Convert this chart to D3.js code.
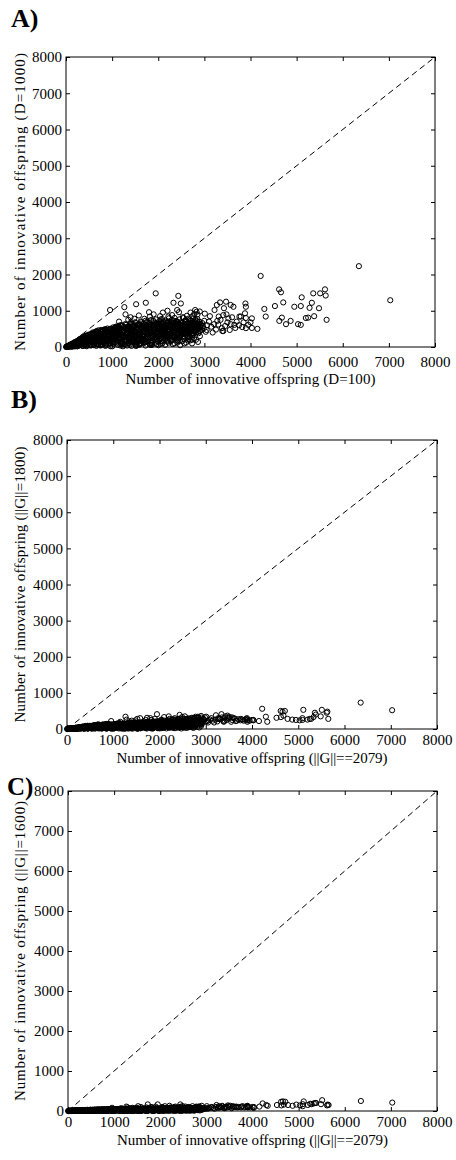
<!DOCTYPE html>
<html>
<head>
<meta charset="utf-8">
<script src="https://cdn.jsdelivr.net/npm/d3@7"></script>
<style>
  body { margin: 0; background: #fff; }
  svg { display: block; }
  text { font-family: "Liberation Serif", "Times New Roman", serif; fill: #000; }
</style>
</head>
<body>
<svg id="chart" width="456" height="1160"></svg>
<script>
// Axis ticks shared by both axes of every panel
const tickValues = [0, 1000, 2000, 3000, 4000, 5000, 6000, 7000, 8000];

// Innovative offspring per run: baseline setting (D=100, ||G||==2079)
const offspringD100 = [
  6350, 7030, 4220, 4620, 4660, 5615, 5110, 5360, 5510, 5630,
  4710, 4300, 4330, 4530, 4950, 5090, 5330, 5280, 4625, 4680,
  4770, 4870, 5030, 5090, 5200, 5250, 5380, 5650, 5485, 3890,
  3900, 3880, 3900, 3820, 4030, 4030, 4150, 3900, 3470, 3340,
  3270, 3220, 3570, 3425, 3630, 3760, 3790, 3520, 3410, 3310,
  3410, 3390, 3570, 3670, 3650, 3010, 3030, 3050, 3210, 2800,
  2830, 2760, 2850, 2435, 2330, 2490, 2410, 1945, 1730, 1520,
  1265, 955, 1820, 2040, 2220, 2650, 1730, 1590, 1200, 1100,
  810,
  1290, 1400, 1580, 1700, 1900, 2100, 2300, 2550, 2700, 2900,
  2620, 2780, 1350, 1800, 2450, 2200, 2050, 2600, 1150, 1480,
  3100, 3150, 3250, 3300, 3350, 3450, 3500, 3550, 3600, 3700,
  3750, 3850, 3950, 4000, 3120, 3180, 3280, 3380, 3480, 3060,
  12, 28, 41, 57, 73, 88, 103, 118, 131, 148,
  162, 179, 193, 207, 224, 238, 252, 268, 283, 297,
  313, 327, 344, 358, 372, 389, 403, 418, 433, 447,
  462, 478, 493, 507, 523, 538, 552, 568, 583, 597,
  612, 628, 642, 657, 673, 688, 702, 718, 733, 747,
  762, 778, 792, 807, 823, 837, 852, 868, 882, 897,
  913, 927, 942, 958, 972, 987, 1003, 1017, 1032, 1048,
  1062, 1077, 1093, 1107, 1122, 1138, 1152, 1168, 1182, 1197,
  1213, 1227, 1242, 1258, 1272, 1287, 1302, 1317, 1333, 1347,
  1362, 1378, 1392, 1407, 1423, 1437, 1452, 1468, 1482, 1497,
  1512, 1527, 1543, 1557, 1572, 1588, 1602, 1617, 1633, 1647,
  1662, 1678, 1692, 1707, 1723, 1737, 1752, 1768, 1782, 1797,
  1813, 1827, 1842, 1858, 1872, 1887, 1903, 1917, 1932, 1948,
  1962, 1977, 1993, 2007, 2022, 2038, 2052, 2067, 2083, 2097,
  2112, 2128, 2142, 2157, 2173, 2187, 2202, 2218, 2232, 2247,
  2263, 2277, 2292, 2308, 2322, 2337, 2353, 2367, 2382, 2398,
  2412, 2427, 2443, 2457, 2472, 2488, 2502, 2517, 2533, 2547,
  2562, 2578, 2592, 2607, 2623, 2637, 2652, 2668, 2682, 2697,
  2713, 2727, 2742, 2758, 2772, 2787, 2803, 2817, 2832, 2848,
  2862, 2877, 2893, 2907, 2922, 2938, 2952, 2967, 2983, 2997,
  5, 18, 34, 47, 63, 79, 91, 108, 121, 137, 152, 166, 183, 196, 211, 227, 241, 256, 272, 286,
  9, 24, 39, 52, 68, 84, 97, 113, 127, 142, 157, 171, 188, 201, 217, 232, 246, 262, 277, 291,
  302, 318, 333, 349, 363, 379, 394, 408, 424, 439, 453, 469, 484, 498, 514, 529, 543, 559, 574, 588,
  306, 337, 366, 397, 428, 456, 487, 517, 546, 578, 604, 619, 634, 651, 664, 679, 694, 609, 639, 668,
  703, 718, 734, 749, 763, 779, 794, 808, 824, 839, 853, 869, 884, 898, 914, 929, 943, 959, 974, 988,
  1004, 1019, 1034, 1049, 1063, 1079, 1094, 1108, 1124, 1139, 1153, 1169, 1184, 1198, 1214, 1229, 1243, 1259, 1274, 1288,
  1303, 1318, 1334, 1349, 1363, 1379, 1394, 711, 743, 772, 806, 833, 866, 891, 921, 952, 981, 1011, 1042, 1071,
  1101, 1131, 1161, 1191, 1221, 1251, 1281, 1311, 1341, 1371, 1397, 726, 788, 851, 907, 968, 1027, 1086, 1147, 1206,
  1404, 1419, 1434, 1449, 1463, 1479, 1494, 1508, 1524, 1539, 1553, 1569, 1584, 1598, 1614, 1629, 1643, 1659, 1674, 1688,
  1703, 1718, 1734, 1749, 1763, 1779, 1794, 1808, 1824, 1839, 1853, 1869, 1884, 1898, 1914, 1929, 1943, 1959, 1974, 1988,
  1411, 1441, 1471, 1501, 1531, 1561, 1591, 1621, 1651, 1681, 1711, 1741, 1771, 1801, 1831, 1861, 1891, 1921, 1951, 1981,
  1426, 1486, 1546, 1606, 1666, 1726, 1786, 1846, 1906, 1966, 1456, 1516, 1576, 1636, 1696, 1756, 1816, 1876, 1936, 1996,
  2004, 2029, 2053, 2078, 2104, 2128, 2153, 2179, 2203, 2228, 2254, 2278, 2303, 2329, 2353, 2378, 2404, 2428, 2453, 2479,
  2011, 2036, 2061, 2086, 2111, 2136, 2161, 2186, 2211, 2236, 2261, 2286, 2311, 2336, 2361, 2386, 2411, 2436, 2461, 2486,
  2018, 2043, 2068, 2093, 2118, 2143, 2168, 2193, 2218, 2243, 2268, 2293, 2318, 2343, 2368, 2393, 2418, 2443, 2468, 2493,
  2024, 2049, 2074, 2099, 2124, 2149, 2174, 2199, 2224, 2249, 2274, 2299, 2324, 2349, 2374, 2399, 2424, 2449, 2474, 2497,
  2506, 2527, 2548, 2569, 2591, 2612, 2633, 2654, 2676, 2697, 2718, 2739, 2761, 2782, 2803, 2824, 2846, 2867, 2888, 2909,
  2513, 2534, 2555, 2577, 2598, 2619, 2641, 2662, 2683, 2704, 2726, 2747, 2768, 2789, 2811, 2832, 2853, 2874, 2896, 2916,
  2519, 2541, 2562, 2584, 2605, 2626, 2648, 2669, 2690, 2711, 2733, 2754, 2775, 2797, 2818, 2839, 2861, 2882, 2903, 2924,
  56, 133, 214, 298, 371, 452, 533, 617, 698, 781, 862, 946, 1027, 1109, 1193, 1276, 1357, 1438, 1522, 1604,
  145, 260, 370, 455, 540, 620, 700, 760, 830, 900, 965, 1030, 1095, 1160, 1225, 1290, 1355, 1420, 1485, 1550,
  1615, 1680, 1745, 1810, 1875, 1940, 2005, 2070, 2135, 2200, 2265, 2330, 2395, 2460, 2525, 2590, 2655, 2720, 180, 410,
  215, 330, 480, 575, 660, 745, 815, 885, 950, 1015, 1080, 1145, 1210, 1275, 1340, 1405, 1470, 1535, 1600, 1665,
  1730, 1795, 1860, 1925, 1990, 2055, 2120, 2185, 2250, 2315, 2380, 2445, 2510, 2575, 2640, 2705, 650, 875, 1120, 1385,
  590, 675, 725, 790, 855, 920, 985, 1050, 1115, 1180, 1245, 1310, 1375, 1440, 1505, 1570, 1635, 1700, 1765, 1830,
  1895, 1960, 2025, 2090, 2155, 2220, 2285, 2350, 2415, 2480, 2545, 2610, 2675, 2740, 1655, 1875, 2105, 2335, 2565, 1435,
  395, 505, 610, 715, 820, 925, 1025, 1135, 1235, 1340, 1445, 1545, 1650, 1755, 1855, 1960, 2065, 2165, 2270, 2375,
  2475, 2580, 2685, 350, 445, 560, 680, 795, 910, 1040, 1170, 1300, 1430, 1560, 1690, 1820, 1950, 2080, 2210, 2340,
  2470, 2600, 1005, 1070, 1135, 1200, 1265, 1330, 1395, 1460, 1525, 1590, 1655, 1720, 1785, 1850, 1915, 1980, 2045, 2110,
  2175, 2240, 2305, 2370, 2435, 2500, 2565, 2630, 2695, 2760, 765, 845, 935, 1060, 1190, 1325, 1460, 1590, 1725, 1860
];

// Same runs with D=1000
const offspringD1000 = [
  2230, 1290, 1960, 1590, 1510, 1590, 1370, 1480, 1480, 1420,
  1230, 1050, 840, 1130, 1110, 1130, 1220, 1080, 720, 810,
  630, 720, 630, 610, 800, 810, 850, 750, 1070, 1200,
  1110, 930, 800, 550, 790, 525, 500, 520, 1250, 1230,
  1160, 1020, 1160, 1070, 1110, 840, 840, 790, 880, 840,
  440, 440, 630, 525, 610, 920, 420, 470, 630, 1020,
  970, 790, 900, 1410, 1220, 1200, 1020, 1480, 1220, 1180,
  1100, 1020, 840, 850, 840, 420, 240, 100, 80, 330,
  150,
  900, 820, 870, 780, 900, 950, 880, 800, 950, 980,
  860, 910, 750, 960, 960, 1000, 760, 720, 700, 780,
  700, 560, 480, 620, 750, 580, 680, 470, 820, 700,
  600, 680, 610, 680, 850, 400, 720, 520, 900, 600,
  6, 22, 11, 37, 14, 52, 31, 63, 18, 72,
  44, 93, 29, 112, 61, 133, 24, 97, 152, 56,
  172, 82, 193, 41, 122, 214, 77, 232, 161, 21,
  253, 112, 272, 191, 62, 302, 142, 243, 332, 91,
  283, 182, 362, 31, 232, 402, 121, 322, 212, 442,
  71, 292, 462, 162, 382, 252, 482, 101, 342, 202,
  432, 292, 152, 502, 382, 242, 462, 122, 332, 522,
  202, 412, 282, 562, 172, 372, 482, 242, 602, 322,
  142, 442, 542, 262, 382, 632, 202, 482, 332, 572,
  152, 422, 662, 272, 512, 362, 602, 222, 452, 682,
  302, 542, 392, 182, 622, 472, 332, 702, 252, 562,
  412, 642, 302, 502, 722, 372, 592, 442, 262, 662,
  522, 382, 742, 302, 612, 462, 682, 342, 562, 762,
  422, 632, 282, 502, 712, 362, 592, 452, 772, 322,
  652, 522, 402, 732, 562, 302, 682, 472, 792, 382,
  612, 522, 742, 342, 662, 452, 802, 582, 402, 702,
  502, 622, 362, 762, 542, 432, 682, 582, 822, 472,
  642, 382, 732, 522, 612, 442, 782, 562, 662, 402,
  722, 502, 852, 602, 452, 702, 542, 642, 482, 772,
  582, 422, 692, 532, 612, 472, 662, 582, 512, 722,
  3, 10, 8, 25, 40, 18, 60, 35, 80, 22, 95, 55, 120, 70, 140, 40, 160, 100, 185, 60,
  0, 15, 27, 12, 45, 30, 66, 5, 88, 50, 104, 15, 130, 85, 150, 110, 20, 175, 130, 200,
  220, 90, 240, 160, 30, 260, 200, 280, 120, 300, 40, 320, 240, 180, 340, 70, 360, 280, 140, 380,
  120, 200, 280, 60, 310, 220, 340, 100, 260, 400, 50, 300, 410, 170, 440, 250, 360, 200, 420, 90,
  460, 180, 380, 40, 470, 260, 420, 120, 340, 490, 60, 440, 220, 510, 300, 400, 90, 480, 200, 350,
  20, 540, 270, 410, 120, 560, 330, 470, 60, 580, 240, 500, 380, 150, 600, 290, 440, 80, 520, 350,
  610, 230, 470, 110, 560, 370, 640, 290, 130, 420, 240, 330, 460, 150, 270, 390, 440, 210, 360, 470,
  300, 410, 520, 220, 350, 460, 170, 550, 400, 260, 490, 350, 180, 300, 430, 240, 500, 380, 270, 570,
  120, 620, 330, 480, 200, 560, 410, 660, 270, 520, 150, 380, 600, 240, 460, 680, 320, 540, 220, 430,
  600, 290, 480, 160, 700, 380, 530, 240, 650, 410, 180, 580, 320, 720, 470, 260, 620, 390, 200, 550,
  440, 260, 580, 340, 90, 500, 630, 380, 180, 560, 420, 680, 300, 510, 140, 600, 360, 480, 660, 230,
  140, 280, 60, 620, 190, 40, 560, 110, 600, 80, 360, 30, 250, 580, 120, 500, 70, 280, 540, 160,
  300, 620, 450, 180, 700, 380, 540, 260, 660, 480, 220, 600, 410, 730, 330, 560, 270, 680, 440, 600,
  520, 240, 680, 400, 560, 300, 620, 450, 200, 700, 360, 520, 640, 290, 460, 720, 380, 580, 250, 500,
  420, 560, 330, 640, 250, 480, 700, 360, 590, 420, 680, 300, 540, 460, 620, 350, 700, 480, 560, 330,
  640, 90, 520, 150, 600, 60, 350, 660, 120, 320, 580, 200, 400, 100, 300, 640, 180, 380, 50, 540,
  680, 420, 560, 300, 740, 500, 380, 620, 460, 720, 550, 330, 650, 480, 760, 400, 600, 520, 700, 450,
  380, 600, 480, 700, 340, 560, 640, 420, 760, 520, 380, 680, 580, 440, 620, 720, 500, 380, 640, 560,
  160, 460, 220, 380, 120, 520, 290, 340, 180, 460, 100, 620, 250, 420, 200, 560, 140, 640, 300, 600,
  15, 30, 20, 45, 30, 60, 40, 75, 55, 90, 70, 100, 85, 120, 100, 140, 110, 160, 130, 170,
  60, 110, 190, 70, 250, 140, 330, 60, 420, 230, 20, 470, 180, 380, 90, 520, 270, 30, 450, 200,
  560, 110, 380, 600, 250, 480, 50, 640, 330, 150, 560, 420, 200, 620, 360, 540, 220, 660, 90, 160,
  30, 220, 120, 320, 410, 200, 350, 480, 110, 300, 520, 240, 420, 60, 560, 340, 180, 600, 90, 470,
  230, 520, 60, 400, 580, 160, 470, 300, 620, 80, 520, 260, 580, 380, 180, 600, 280, 120, 430, 60,
  200, 80, 280, 440, 30, 360, 150, 460, 250, 40, 400, 170, 510, 240, 90, 430, 550, 140, 360, 60,
  420, 220, 560, 100, 330, 600, 180, 450, 120, 540, 280, 640, 420, 200, 320, 140, 440, 280, 100, 420,
  280, 140, 360, 250, 100, 420, 280, 530, 20, 350, 560, 130, 300, 580, 60, 380, 250, 520, 150, 440,
  320, 500, 260, 90, 300, 50, 420, 140, 330, 430, 190, 280, 470, 320, 190, 510, 120, 380, 560, 260,
  180, 420, 150, 360, 540, 80, 300, 460, 220, 620, 40, 350, 500, 130, 420, 300, 560, 160, 460, 620,
  230, 500, 300, 640, 160, 420, 560, 260, 480, 360, 250, 470, 330, 200, 100, 40, 240, 60, 140, 100
];

// Same runs with ||G||=1800
const offspringG1800 = [
  730, 520, 560, 500, 480, 450, 530, 450, 530, 480,
  500, 340, 200, 310, 250, 300, 330, 280, 330, 370,
  280, 260, 240, 250, 260, 280, 400, 280, 350, 300,
  260, 280, 240, 230, 240, 250, 220, 200, 370, 410,
  300, 380, 320, 350, 290, 280, 260, 330, 300, 280,
  230, 200, 250, 230, 220, 340, 220, 180, 260, 300,
  340, 300, 260, 390, 300, 330, 280, 410, 310, 280,
  340, 220, 250, 260, 280, 200, 100, 60, 40, 120,
  60,
  260, 230, 300, 250, 280, 330, 270, 350, 310, 360,
  290, 340, 210, 300, 290, 350, 240, 260, 200, 240,
  260, 230, 210, 270, 320, 250, 290, 200, 300, 270,
  240, 260, 230, 250, 300, 180, 280, 220, 320, 240,
  2, 6, 9, 11, 5, 13, 16, 19, 9, 22,
  26, 14, 29, 23, 31, 36, 12, 41, 33, 21,
  46, 39, 52, 26, 57, 49, 31, 62, 43, 19,
  67, 51, 72, 59, 36, 77, 63, 46, 82, 41,
  87, 69, 73, 31, 92, 79, 56, 97, 61, 89,
  49, 102, 83, 71, 107, 65, 97, 53, 112, 77,
  117, 85, 59, 122, 93, 71, 127, 61, 101, 132,
  79, 113, 89, 137, 67, 119, 142, 83, 126, 97,
  71, 147, 109, 87, 152, 129, 77, 157, 99, 133,
  73, 162, 139, 91, 167, 113, 143, 85, 172, 149,
  101, 177, 121, 81, 153, 182, 109, 157, 93, 187,
  131, 161, 105, 192, 165, 119, 197, 141, 99, 171,
  202, 126, 177, 111, 207, 151, 181, 119, 212, 187,
  135, 217, 107, 191, 222, 129, 197, 227, 161, 121,
  232, 201, 141, 236, 177, 127, 242, 207, 167, 137,
  246, 191, 252, 131, 213, 173, 257, 151, 221, 262,
  181, 267, 141, 227, 191, 272, 161, 233, 277, 201,
  151, 239, 283, 171, 211, 247, 291, 187, 251, 161,
  297, 221, 201, 301, 181, 259, 307, 191, 241, 311,
  211, 271, 181, 317, 231, 201, 281, 251, 321, 201,
  1, 3, 6, 9, 12, 5, 15, 20, 8, 24, 28, 12, 33, 18, 38, 10, 42, 25, 48, 15,
  0, 4, 8, 2, 13, 9, 18, 4, 22, 14, 27, 6, 31, 20, 36, 26, 8, 44, 30, 52,
  55, 25, 60, 40, 10, 65, 48, 70, 30, 75, 12, 80, 58, 42, 85, 20, 90, 66, 35, 95,
  30, 50, 68, 15, 78, 55, 85, 25, 64, 100, 12, 74, 104, 42, 110, 62, 90, 50, 105, 22,
  115, 45, 95, 10, 120, 65, 105, 30, 85, 125, 15, 110, 55, 130, 75, 100, 22, 120, 50, 88,
  8, 135, 68, 103, 30, 140, 83, 118, 15, 145, 60, 125, 95, 38, 150, 73, 110, 20, 130, 88,
  155, 58, 118, 28, 140, 93, 160, 72, 32, 105, 60, 83, 115, 38, 68, 98, 110, 53, 90, 118,
  75, 103, 130, 55, 88, 115, 43, 138, 100, 65, 123, 88, 45, 75, 108, 60, 125, 95, 68, 143,
  40, 165, 90, 130, 55, 150, 110, 175, 72, 140, 42, 102, 160, 65, 123, 180, 85, 145, 60, 115,
  160, 78, 130, 45, 190, 102, 142, 65, 175, 110, 50, 155, 86, 195, 126, 70, 168, 105, 55, 148,
  118, 70, 155, 92, 28, 135, 170, 102, 50, 150, 113, 183, 81, 137, 40, 162, 97, 130, 178, 62,
  38, 76, 18, 167, 52, 12, 150, 30, 162, 22, 97, 10, 68, 157, 33, 135, 20, 76, 146, 44,
  85, 175, 127, 52, 198, 108, 153, 74, 187, 136, 63, 170, 116, 207, 94, 159, 77, 193, 125, 170,
  148, 68, 193, 114, 159, 85, 176, 128, 57, 199, 102, 148, 182, 82, 131, 205, 108, 165, 71, 142,
  120, 159, 94, 182, 71, 136, 199, 102, 168, 120, 193, 85, 154, 131, 176, 100, 199, 136, 159, 94,
  182, 26, 148, 43, 171, 17, 100, 188, 34, 91, 165, 57, 114, 28, 85, 182, 51, 108, 14, 154,
  205, 127, 169, 90, 223, 151, 115, 187, 139, 217, 166, 100, 196, 145, 229, 121, 181, 157, 211, 136,
  115, 181, 145, 211, 103, 169, 193, 127, 229, 157, 115, 205, 175, 133, 187, 217, 151, 115, 193, 169,
  48, 139, 66, 115, 36, 157, 88, 103, 54, 139, 30, 187, 75, 127, 60, 169, 42, 193, 91, 181,
  4, 9, 6, 13, 9, 18, 12, 23, 17, 27, 21, 30, 26, 36, 30, 42, 33, 48, 39, 51,
  20, 35, 55, 18, 75, 45, 95, 20, 115, 68, 6, 128, 52, 108, 28, 142, 80, 10, 130, 60,
  150, 34, 112, 170, 76, 140, 16, 190, 98, 45, 168, 126, 60, 190, 110, 165, 66, 200, 28, 48,
  10, 66, 36, 96, 122, 60, 105, 140, 32, 90, 150, 70, 122, 18, 160, 100, 54, 172, 27, 136,
  70, 155, 18, 120, 172, 48, 140, 90, 185, 24, 156, 78, 174, 114, 54, 180, 84, 36, 128, 18,
  60, 24, 84, 130, 9, 108, 45, 136, 75, 12, 118, 50, 150, 72, 27, 128, 162, 42, 106, 18,
  126, 66, 168, 30, 99, 180, 54, 135, 36, 162, 84, 192, 126, 60, 96, 42, 132, 84, 30, 126,
  84, 42, 108, 75, 30, 126, 84, 158, 6, 105, 168, 39, 90, 174, 18, 114, 75, 156, 45, 132,
  96, 150, 78, 27, 90, 15, 126, 42, 99, 129, 57, 84, 141, 96, 57, 153, 36, 114, 168, 78,
  54, 126, 45, 108, 162, 24, 90, 138, 66, 186, 12, 105, 150, 39, 126, 90, 168, 48, 138, 186,
  69, 150, 90, 192, 48, 126, 168, 78, 144, 108, 75, 141, 99, 60, 30, 12, 72, 18, 42, 30
];

// Same runs with ||G||=1600
const offspringG1600 = [
  250, 210, 190, 230, 240, 140, 240, 200, 270, 160,
  230, 150, 130, 150, 160, 170, 190, 170, 140, 160,
  150, 130, 140, 120, 150, 180, 200, 150, 170, 130,
  110, 120, 100, 90, 100, 80, 110, 90, 140, 130,
  120, 150, 120, 110, 100, 110, 120, 130, 100, 90,
  80, 70, 100, 90, 110, 120, 60, 70, 100, 100,
  110, 90, 110, 165, 110, 120, 100, 165, 165, 120,
  110, 80, 90, 100, 90, 80, 40, 20, 15, 40,
  20,
  90, 80, 100, 90, 110, 120, 100, 110, 120, 130,
  100, 110, 70, 100, 110, 130, 90, 90, 70, 80,
  90, 70, 80, 100, 110, 90, 100, 70, 110, 100,
  90, 100, 90, 100, 100, 60, 90, 80, 120, 80,
  2, 4, 6, 8, 3, 10, 12, 8, 5, 14,
  10, 16, 12, 18, 8, 20, 6, 16, 22, 10,
  24, 14, 18, 8, 26, 20, 12, 28, 16, 6,
  24, 18, 30, 20, 12, 32, 22, 16, 34, 14,
  28, 24, 36, 10, 26, 32, 20, 38, 18, 40,
  16, 30, 42, 24, 34, 22, 44, 18, 36, 26,
  40, 30, 20, 46, 34, 24, 44, 22, 32, 48,
  26, 38, 30, 50, 24, 36, 44, 28, 54, 34,
  24, 42, 48, 30, 38, 56, 28, 46, 36, 52,
  26, 42, 58, 32, 48, 38, 54, 30, 44, 60,
  36, 50, 40, 28, 56, 46, 38, 62, 34, 52,
  42, 58, 36, 48, 64, 40, 54, 46, 34, 60,
  50, 42, 66, 38, 56, 48, 62, 40, 52, 68,
  46, 58, 36, 50, 64, 42, 56, 48, 70, 40,
  60, 52, 46, 66, 54, 40, 62, 50, 72, 46,
  58, 54, 68, 44, 62, 50, 74, 56, 48, 66,
  54, 60, 46, 70, 56, 50, 64, 58, 76, 52,
  62, 48, 68, 56, 60, 52, 72, 58, 64, 50,
  70, 56, 78, 62, 54, 68, 60, 64, 56, 74,
  62, 52, 66, 60, 64, 56, 66, 62, 58, 70,
  0, 1, 2, 3, 4, 2, 5, 7, 3, 8, 9, 4, 11, 6, 12, 3, 14, 8, 16, 5,
  0, 1, 3, 1, 4, 3, 6, 1, 7, 5, 9, 2, 10, 7, 12, 9, 3, 15, 10, 17,
  18, 8, 20, 13, 3, 22, 16, 23, 10, 25, 4, 27, 19, 14, 28, 7, 30, 22, 12, 32,
  10, 17, 23, 5, 26, 18, 28, 8, 21, 33, 4, 25, 35, 14, 37, 21, 30, 17, 35, 7,
  38, 15, 32, 3, 40, 22, 35, 10, 28, 42, 5, 37, 18, 43, 25, 33, 7, 40, 17, 29,
  3, 45, 23, 34, 10, 47, 28, 39, 5, 48, 20, 42, 32, 13, 50, 24, 37, 7, 43, 29,
  52, 19, 39, 9, 47, 31, 53, 24, 11, 35, 20, 28, 38, 13, 23, 33, 37, 18, 30, 39,
  25, 34, 43, 18, 29, 38, 14, 46, 33, 22, 41, 29, 15, 25, 36, 20, 42, 32, 23, 48,
  13, 55, 30, 43, 18, 50, 37, 58, 24, 47, 14, 34, 53, 22, 41, 60, 28, 48, 20, 38,
  53, 26, 43, 15, 63, 34, 47, 22, 58, 37, 17, 52, 29, 65, 42, 23, 56, 35, 18, 49,
  39, 23, 52, 31, 9, 45, 57, 34, 17, 50, 38, 61, 27, 46, 13, 54, 32, 43, 59, 21,
  13, 25, 6, 56, 17, 4, 50, 10, 54, 7, 32, 3, 23, 52, 11, 45, 7, 25, 49, 15,
  28, 58, 42, 17, 66, 36, 51, 25, 62, 45, 21, 57, 39, 69, 31, 53, 26, 64, 42, 57,
  49, 23, 64, 38, 53, 28, 59, 43, 19, 66, 34, 49, 61, 27, 44, 68, 36, 55, 24, 47,
  40, 53, 31, 61, 24, 45, 66, 34, 56, 40, 64, 28, 51, 44, 59, 33, 66, 45, 53, 31,
  61, 9, 49, 14, 57, 6, 33, 63, 11, 30, 55, 19, 38, 9, 28, 61, 17, 36, 5, 51,
  68, 42, 56, 30, 74, 50, 38, 62, 46, 72, 55, 33, 65, 48, 76, 40, 60, 52, 70, 45,
  38, 60, 48, 70, 34, 56, 64, 42, 76, 52, 38, 68, 58, 44, 62, 72, 50, 38, 64, 56,
  16, 46, 22, 38, 12, 52, 29, 34, 18, 46, 10, 62, 25, 42, 20, 56, 14, 64, 30, 60,
  1, 3, 2, 4, 3, 6, 4, 8, 6, 9, 7, 10, 9, 12, 10, 14, 11, 16, 13, 17,
  4, 8, 12, 4, 17, 10, 22, 4, 27, 15, 1, 30, 12, 25, 6, 33, 18, 2, 30, 13,
  35, 8, 26, 40, 17, 32, 3, 44, 23, 10, 39, 29, 14, 44, 25, 38, 15, 46, 6, 11,
  2, 15, 8, 22, 28, 14, 24, 32, 7, 21, 35, 16, 28, 4, 37, 23, 12, 40, 6, 31,
  16, 36, 4, 28, 40, 11, 32, 21, 43, 5, 36, 18, 40, 26, 12, 42, 19, 8, 30, 4,
  14, 5, 19, 30, 2, 25, 10, 31, 17, 3, 27, 12, 35, 17, 6, 30, 38, 10, 25, 4,
  29, 15, 39, 7, 23, 42, 12, 31, 8, 38, 19, 45, 29, 14, 22, 10, 31, 19, 7, 29,
  19, 10, 25, 17, 7, 29, 19, 37, 1, 24, 39, 9, 21, 40, 4, 26, 17, 36, 10, 31,
  22, 35, 18, 6, 21, 3, 29, 10, 23, 30, 13, 19, 33, 22, 13, 36, 8, 26, 39, 18,
  13, 29, 10, 25, 38, 6, 21, 32, 15, 43, 3, 24, 35, 9, 29, 21, 39, 11, 32, 43,
  16, 35, 21, 45, 11, 29, 39, 18, 34, 25, 17, 33, 23, 14, 7, 3, 17, 4, 10, 7
];

const panelLetters = ["A)", "B)", "C)"];
const yTitles = [
  "Number of innovative offspring (D=1000)",
  "Number of innovative offspring (||G||=1800)",
  "Number of innovative offspring (||G||=1600)"
];
const xTitles = [
  "Number of innovative offspring (D=100)",
  "Number of innovative offspring (||G||==2079)",
  "Number of innovative offspring (||G||==2079)"
];

// Frame geometry and label placement of the three stacked panels
const frames = [
  { left: 66, right: 435, top: 57, bottom: 347, letterX: 11, letterY: 27, letterSize: 26, tickPad: 9, xTitleY: 384, xTitleLen: 250, yTitleLen: 298 },
  { left: 67, right: 437, top: 440, bottom: 729, letterX: 11, letterY: 408, letterSize: 26, tickPad: 5, xTitleY: 763, xTitleLen: 271, yTitleLen: 276 },
  { left: 68, right: 437, top: 791, bottom: 1111, letterX: 7, letterY: 795, letterSize: 25, tickPad: 5, xTitleY: 1145, xTitleLen: 271, yTitleLen: 300 }
];
const yValues = [offspringD1000, offspringG1800, offspringG1600];

const FONT = "'Liberation Serif', 'Times New Roman', serif";
const svg = d3.select("#chart");

frames.forEach((f, i) => {
  const x = d3.scaleLinear().domain([0, 8000]).range([f.left, f.right]);
  const y = d3.scaleLinear().domain([0, 8000]).range([f.bottom, f.top]);
  const g = svg.append("g");

  // panel letter
  svg.append("text")
    .attr("x", f.letterX).attr("y", f.letterY)
    .style("font-size", f.letterSize + "px").style("font-weight", "bold")
    .text(panelLetters[i]);

  // scatter of paired runs
  const pts = offspringD100.map((v, k) => [v, yValues[i][k]]);
  g.append("g").selectAll("circle").data(pts).join("circle")
    .attr("cx", d => x(d[0])).attr("cy", d => y(d[1]))
    .attr("r", 2.6)
    .attr("fill", "none").attr("stroke", "#000").attr("stroke-width", 1);

  // identity reference line
  g.append("line")
    .attr("x1", x(0)).attr("y1", y(0)).attr("x2", x(8000)).attr("y2", y(8000))
    .attr("stroke", "#000").attr("stroke-width", 1).attr("stroke-dasharray", "6,4");

  const axisStyle = sel => {
    sel.attr("font-family", FONT).attr("font-size", 15);
    sel.select(".domain").remove();
    sel.selectAll(".tick line").attr("stroke", "#000");
  };

  g.append("g").attr("transform", `translate(0,${f.bottom})`)
    .call(d3.axisBottom(x).tickValues(tickValues).tickFormat(d3.format("d"))
      .tickSizeInner(-4).tickSizeOuter(0).tickPadding(f.tickPad))
    .call(axisStyle);
  g.append("g").attr("transform", `translate(0,${f.top})`)
    .call(d3.axisTop(x).tickValues(tickValues).tickFormat("")
      .tickSizeInner(-4).tickSizeOuter(0))
    .call(axisStyle);
  g.append("g").attr("transform", `translate(${f.left},0)`)
    .call(d3.axisLeft(y).tickValues(tickValues).tickFormat(d3.format("d"))
      .tickSizeInner(-4).tickSizeOuter(0).tickPadding(4))
    .call(axisStyle);
  g.append("g").attr("transform", `translate(${f.right},0)`)
    .call(d3.axisRight(y).tickValues(tickValues).tickFormat("")
      .tickSizeInner(-4).tickSizeOuter(0))
    .call(axisStyle);

  // frame
  g.append("rect")
    .attr("x", f.left).attr("y", f.top)
    .attr("width", f.right - f.left).attr("height", f.bottom - f.top)
    .attr("fill", "none").attr("stroke", "#000").attr("stroke-width", 1);

  // axis titles
  svg.append("text")
    .attr("x", (f.left + f.right) / 2).attr("y", f.xTitleY)
    .attr("text-anchor", "middle").style("font-size", "15px")
    .attr("textLength", f.xTitleLen).attr("lengthAdjust", "spacing")
    .text(xTitles[i]);
  svg.append("text")
    .attr("transform", `translate(25,${(f.top + f.bottom) / 2}) rotate(-90)`)
    .attr("text-anchor", "middle").style("font-size", "15px")
    .attr("textLength", f.yTitleLen).attr("lengthAdjust", "spacing")
    .text(yTitles[i]);
});
</script>
</body>
</html>
